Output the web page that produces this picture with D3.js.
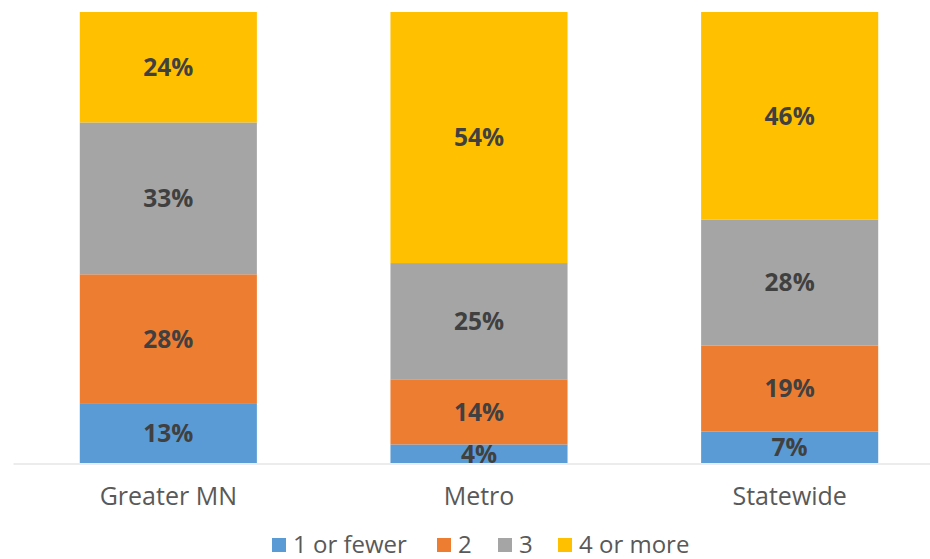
<!DOCTYPE html>
<html>
<head>
<meta charset="utf-8">
<script src="https://cdn.jsdelivr.net/npm/d3@7"></script>
<style>
  html, body { margin: 0; padding: 0; background: #fff; }
  svg { display: block; font-family: "Open Sans", Lato, sans-serif; }
</style>
</head>
<body>
<svg id="chart" width="930" height="559"></svg>
<script>
// Share of respondents by count, per region (percent)
const categories = ["Greater MN", "Metro", "Statewide"];
const seriesNames = ["1 or fewer", "2", "3", "4 or more"];
const oneOrFewer = [13, 4, 7];
const two = [28, 14, 19];
const three = [33, 25, 28];
const fourOrMore = [24, 54, 46];

const colors = ["#5B9BD5", "#ED7D31", "#A5A5A5", "#FFC000"];

const seriesValues = [oneOrFewer, two, three, fourOrMore];
const rows = categories.map((c, i) => {
  const r = { category: c };
  seriesNames.forEach((s, j) => { r[s] = seriesValues[j][i]; });
  return r;
});

const svg = d3.select("#chart");

const x = d3.scaleBand()
  .domain(categories)
  .range([13, 945])
  .paddingInner(0.43)
  .paddingOuter(0.215);

const y = d3.scaleLinear().domain([0, 1]).range([463, 12]);

const color = d3.scaleOrdinal().domain(seriesNames).range(colors);

// 100% stacked columns
const stack = d3.stack().keys(seriesNames).offset(d3.stackOffsetExpand);
const layers = stack(rows);

const g = svg.append("g");
const layerG = g.selectAll("g.layer")
  .data(layers)
  .join("g")
  .attr("class", "layer")
  .attr("fill", d => color(d.key));

layerG.selectAll("rect")
  .data(d => d.map(p => ({ p, key: d.key })))
  .join("rect")
  .attr("x", d => x(d.p.data.category))
  .attr("width", x.bandwidth())
  .attr("y", d => y(d.p[1]))
  .attr("height", d => y(d.p[0]) - y(d.p[1]));

// value labels
layerG.selectAll("text")
  .data(d => d.map(p => ({ p, key: d.key })))
  .join("text")
  .attr("x", d => x(d.p.data.category) + x.bandwidth() / 2)
  .attr("y", d => (y(d.p[0]) + y(d.p[1])) / 2)
  .attr("dy", "0.36em")
  .attr("text-anchor", "middle")
  .attr("fill", "#404040")
  .attr("font-weight", "bold")
  .attr("font-size", 24.5)
  .text(d => d.p.data[d.key] + "%");

// category axis
const axis = svg.append("g")
  .attr("transform", "translate(0,463.5)")
  .call(d3.axisBottom(x).tickSize(0).tickPadding(24));
axis.select(".domain").attr("stroke", "#D9D9D9").attr("stroke-width", 1.2);
axis.selectAll(".tick text")
  .attr("fill", "#595959")
  .attr("font-size", 25)
  .attr("font-family", "'Open Sans', Lato, sans-serif");

// legend
const legendX = [272, 437, 498, 558];
const legend = svg.append("g").attr("class", "legend");
const item = legend.selectAll("g")
  .data(seriesNames)
  .join("g")
  .attr("transform", (d, i) => `translate(${legendX[i]},544)`);
item.append("rect")
  .attr("x", 0).attr("y", -6)
  .attr("width", 14).attr("height", 14)
  .attr("fill", d => color(d));
item.append("text")
  .attr("x", 21)
  .attr("dy", "0.36em")
  .attr("fill", "#595959")
  .attr("font-size", 24)
  .text(d => d);
</script>
</body>
</html>
